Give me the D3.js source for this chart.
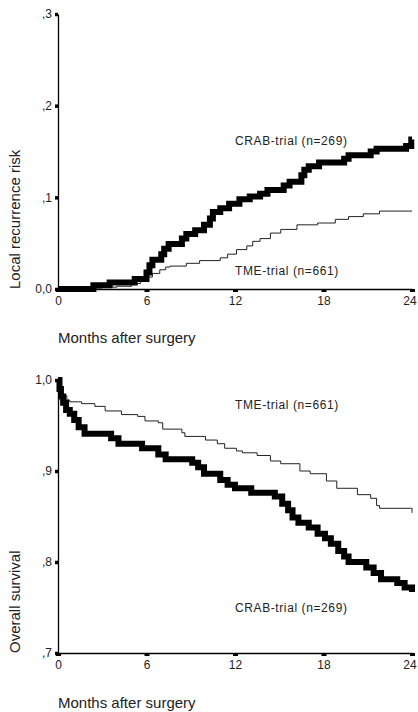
<!DOCTYPE html>
<html>
<head>
<meta charset="utf-8">
<script src="https://cdn.jsdelivr.net/npm/d3@7"></script>
<style>
  body { margin: 0; background: #fff; }
  svg { display: block; font-family: "Liberation Sans", Arial, sans-serif; }
  .axis path, .axis line { stroke: #000; }
  .axis text { font-size: 12px; fill: #222; }
  .note { font-size: 12px; fill: #222; letter-spacing: 0.6px; }
  .title { font-size: 15px; fill: #222; }
</style>
</head>
<body>
<div id="vis-container"></div>
<script>
//width and height
var w = 418;
var h = 712;

// x axis is shared by both panels
var monthTicks = [0, 6, 12, 18, 24];

// top panel: local recurrence, [month, cumulative risk]
var recurTicks = [0, 0.1, 0.2, 0.3];
var recurTickLabels = ["0,0", ",1", ",2", ",3"];
var recurCrab = [[0, 0], [2.4, 0.004], [3.5, 0.007], [5.2, 0.011], [6.0, 0.018], [6.2, 0.026],
    [6.4, 0.032], [7.0, 0.038], [7.2, 0.044], [7.5, 0.049], [8.4, 0.055], [8.7, 0.060],
    [9.3, 0.064], [9.9, 0.070], [10.3, 0.077], [10.5, 0.084], [11.0, 0.088], [11.6, 0.093],
    [12.3, 0.098], [13.0, 0.101], [13.7, 0.104], [14.2, 0.108], [15.3, 0.113], [15.7, 0.117],
    [16.5, 0.124], [16.7, 0.130], [17.0, 0.134], [17.7, 0.138], [19.4, 0.142], [19.7, 0.146],
    [21.2, 0.150], [21.6, 0.153], [23.6, 0.156], [23.95, 0.163], [24, 0.163]];
var recurTme = [[0, 0], [2.0, 0.001], [3.0, 0.002], [4.0, 0.003], [5.0, 0.006], [5.6, 0.009],
    [6.0, 0.013], [6.4, 0.017], [6.9, 0.021], [7.3, 0.024], [7.6, 0.025], [8.7, 0.028],
    [9.6, 0.031], [11.0, 0.034], [11.5, 0.038], [12.1, 0.043], [12.8, 0.047], [13.2, 0.052],
    [13.7, 0.055], [14.4, 0.061], [15.1, 0.065], [16.2, 0.070], [17.6, 0.072], [18.8, 0.076],
    [19.7, 0.079], [20.7, 0.082], [21.8, 0.085], [24, 0.085]];

// bottom panel: overall survival, [month, proportion alive]
var survTicks = [0.7, 0.8, 0.9, 1.0];
var survTickLabels = [",7", ",8", ",9", "1,0"];
var survCrab = [[0, 1.0], [0.1, 0.99], [0.2, 0.982], [0.35, 0.975], [0.55, 0.967], [0.8, 0.963],
    [1.1, 0.956], [1.4, 0.948], [1.8, 0.941], [3.6, 0.936], [4.1, 0.930], [5.7, 0.925],
    [6.8, 0.918], [7.3, 0.913], [9.1, 0.909], [9.5, 0.904], [9.9, 0.897], [11.0, 0.890],
    [11.5, 0.885], [12.0, 0.881], [13.1, 0.876], [14.7, 0.872], [15.2, 0.864], [15.6, 0.857],
    [15.9, 0.849], [16.3, 0.843], [17.0, 0.838], [17.6, 0.831], [18.1, 0.826], [18.5, 0.820],
    [19.0, 0.812], [19.4, 0.806], [19.7, 0.800], [20.9, 0.794], [21.4, 0.788], [21.9, 0.781],
    [23.0, 0.777], [23.5, 0.772], [24, 0.767]];
var survTme = [[0, 1.0], [0.1, 0.99], [0.2, 0.983], [0.6, 0.978], [0.8, 0.976], [1.6, 0.974],
    [2.5, 0.971], [3.2, 0.966], [4.3, 0.962], [5.4, 0.960], [5.9, 0.955], [6.8, 0.953],
    [7.1, 0.946], [8.4, 0.942], [8.6, 0.938], [10.0, 0.934], [10.8, 0.930], [11.3, 0.925],
    [12.1, 0.922], [12.5, 0.920], [13.5, 0.917], [14.4, 0.911], [15.1, 0.908], [16.4, 0.900],
    [17.1, 0.897], [18.2, 0.889], [18.9, 0.881], [20.3, 0.874], [21.2, 0.870], [21.6, 0.862],
    [21.8, 0.859], [23.9, 0.859], [24, 0.854]];

var svg = d3.select("#vis-container")
    .append("svg")
    .attr("width", w)
    .attr("height", h);

function drawPanel(p) {
    var xScale = d3.scaleLinear().domain([0, 24]).range([58, 412]);
    var yScale = d3.scaleLinear().domain(p.domain).range([p.bottom, p.top]);

    var xAxis = d3.axisBottom(xScale)
        .tickValues(monthTicks)
        .tickSize(3)
        .tickSizeOuter(0)
        .tickPadding(4);
    var yAxis = d3.axisLeft(yScale)
        .tickValues(p.ticks)
        .tickFormat(function (d, i) { return p.labels[i]; })
        .tickSize(3)
        .tickSizeOuter(0)
        .tickPadding(3);

    var gx = svg.append("g")
        .attr("class", "x axis")
        .attr("transform", "translate(0," + p.bottom + ")")
        .call(xAxis);
    gx.select(".domain").attr("stroke-width", 1.3);
    gx.selectAll(".tick line").attr("stroke-width", 5);
    gx.selectAll(".tick text").attr("font-family", null).attr("font-size", null)
        // keep the last label ("24") inside the picture
        .attr("dx", function (d) { return d === 24 ? -2.5 : 0; });

    var gy = svg.append("g")
        .attr("class", "y axis")
        .attr("transform", "translate(58,0)")
        .call(yAxis);
    gy.select(".domain").attr("stroke-width", 1.3);
    gy.selectAll(".tick line").attr("stroke-width", 3.5);
    gy.selectAll(".tick text").attr("font-family", null).attr("font-size", null);

    var line = d3.line()
        .x(function (d) { return xScale(d[0]); })
        .y(function (d) { return yScale(d[1]); })
        .curve(d3.curveStepAfter);

    // TME-trial: thin line
    svg.append("path")
        .datum(p.tme)
        .attr("d", line)
        .attr("fill", "none")
        .attr("stroke", "#222")
        .attr("stroke-width", 1);

    // CRAB-trial: thick line
    svg.append("path")
        .datum(p.crab)
        .attr("d", line)
        .attr("fill", "none")
        .attr("stroke", "#000")
        .attr("stroke-width", 6)
        .attr("stroke-linejoin", "miter");

    // curve labels
    svg.append("text").attr("class", "note")
        .attr("x", 235).attr("y", p.crabLabelY)
        .text("CRAB-trial (n=269)");
    svg.append("text").attr("class", "note")
        .attr("x", 235).attr("y", p.tmeLabelY)
        .text("TME-trial (n=661)");

    // axis titles
    svg.append("text").attr("class", "title")
        .attr("x", 58).attr("y", p.xTitleY)
        .text("Months after surgery");
    svg.append("text").attr("class", "title")
        .attr("transform", "translate(20," + p.bottom + ") rotate(-90)")
        .attr("x", 0).attr("y", 0)
        .text(p.yTitle);
}

drawPanel({
    domain: [0, 0.3], top: 14, bottom: 289,
    ticks: recurTicks, labels: recurTickLabels,
    crab: recurCrab, tme: recurTme,
    crabLabelY: 145, tmeLabelY: 275, xTitleY: 343,
    yTitle: "Local recurrence risk"
});

drawPanel({
    domain: [0.7, 1.0], top: 380, bottom: 653,
    ticks: survTicks, labels: survTickLabels,
    crab: survCrab, tme: survTme,
    crabLabelY: 612, tmeLabelY: 409, xTitleY: 708,
    yTitle: "Overall survival"
});
</script>
</body>
</html>
